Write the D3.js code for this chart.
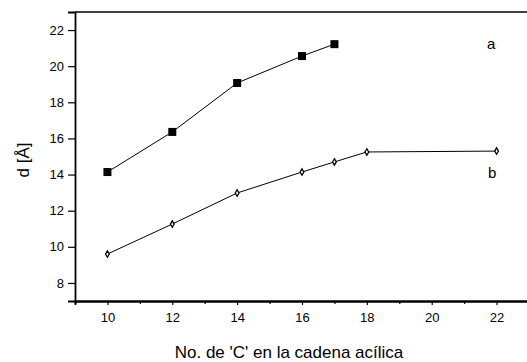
<!DOCTYPE html>
<meta charset="utf-8">
<style>
body { margin: 0; background: #fff; }
* { font-family: "Liberation Sans", Arial, sans-serif; }
.tick text { font-size: 13px; fill: #000; }
</style>
<body>
<script src="https://d3js.org/d3.v7.min.js"></script>
<script>
var xA = [10, 12, 14, 16, 17];
var yA = [14.14, 16.36, 19.07, 20.56, 21.22];
var xB = [10, 12, 14, 16, 17, 18, 22];
var yB = [9.6, 11.26, 12.98, 14.14, 14.7, 15.25, 15.3];
var xTicks = [10, 12, 14, 16, 18, 20, 22];
var xMinor = [11, 13, 15, 17, 19, 21];
var yTicks = [8, 10, 12, 14, 16, 18, 20, 22];

var width = 527, height = 362;

var svg = d3.select("body").append("svg")
    .attr("width", width)
    .attr("height", height);

var x = d3.scaleLinear().domain([9, 23]).range([75, 529]);
var y = d3.scaleLinear().domain([7, 23]).range([301, 12]);

// top of the frame
svg.append("line")
    .attr("x1", x(9)).attr("x2", x(23))
    .attr("y1", y(23)).attr("y2", y(23))
    .attr("stroke", "#000").attr("stroke-width", 1.5);

svg.append("g")
    .attr("transform", "translate(0," + y(7) + ")")
    .call(d3.axisBottom(x).tickValues(xTicks).tickSize(4).tickPadding(8).tickFormat(d3.format("d")));
svg.append("g")
    .attr("transform", "translate(0," + y(7) + ")")
    .call(d3.axisBottom(x).tickValues(xMinor).tickSize(3).tickFormat(""));

svg.append("g")
    .attr("transform", "translate(" + x(9) + ",0)")
    .call(d3.axisLeft(y).tickValues(yTicks).tickSize(7).tickPadding(4).tickFormat(d3.format("d")));

svg.selectAll(".domain").attr("stroke-width", 1.8);
svg.selectAll(".tick line").attr("stroke-width", 1.2);

var line = d3.line()
    .x(function(d) { return x(d[0]); })
    .y(function(d) { return y(d[1]); });

var dataA = xA.map(function(v, i) { return [v, yA[i]]; });
var dataB = xB.map(function(v, i) { return [v, yB[i]]; });

svg.append("path").datum(dataA).attr("d", line)
    .attr("fill", "none").attr("stroke", "#000").attr("stroke-width", 1);
svg.append("path").datum(dataB).attr("d", line)
    .attr("fill", "none").attr("stroke", "#000").attr("stroke-width", 1);

svg.selectAll(".sq").data(dataA).enter().append("rect")
    .attr("x", function(d) { return x(d[0]) - 4; })
    .attr("y", function(d) { return y(d[1]) - 4; })
    .attr("width", 8).attr("height", 8)
    .attr("fill", "#000");

svg.selectAll(".dm").data(dataB).enter().append("path")
    .attr("d", d3.symbol().type(d3.symbolDiamond).size(12))
    .attr("transform", function(d) { return "translate(" + x(d[0]) + "," + y(d[1]) + ")"; })
    .attr("fill", "#fff").attr("stroke", "#000").attr("stroke-width", 1.3);

svg.append("text").attr("x", 487).attr("y", 49).style("font-size", "15px").text("a");
svg.append("text").attr("x", 488).attr("y", 178).style("font-size", "15px").text("b");

svg.append("text")
    .attr("transform", "translate(29,160) rotate(-90)")
    .attr("text-anchor", "middle")
    .style("font-size", "17px")
    .text("d [Å]");

svg.append("text")
    .attr("x", 289).attr("y", 358)
    .attr("text-anchor", "middle")
    .style("font-size", "17px")
    .text("No. de 'C' en la cadena acílica");
</script>
